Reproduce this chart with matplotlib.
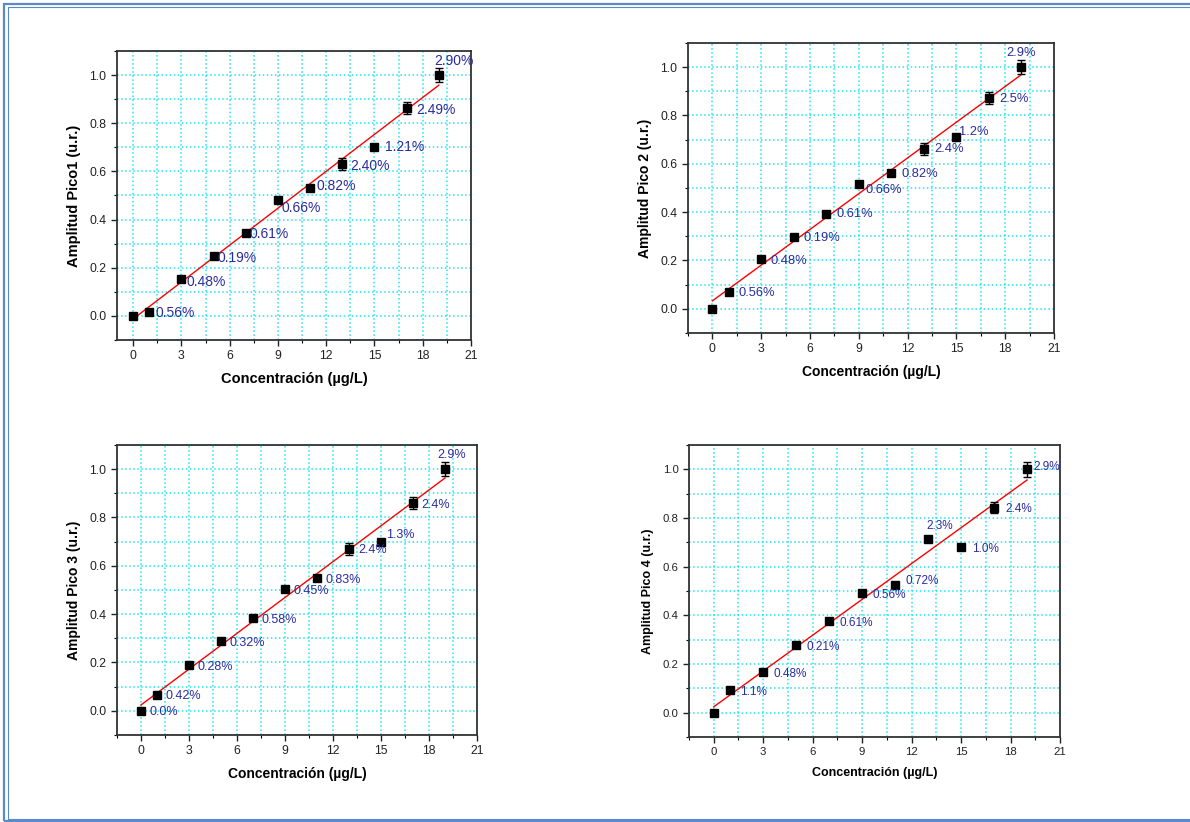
import numpy as np
import matplotlib
matplotlib.use('Agg')
import matplotlib.pyplot as plt
from matplotlib.patches import Rectangle
from matplotlib.ticker import MultipleLocator

plt.rcParams['font.family'] = ['Liberation Sans', 'DejaVu Sans']

# concentration (ug/L), same for all four peaks
conc = [0, 1, 3, 5, 7, 9, 11, 13, 15, 17, 19]

pico1 = [0.0, 0.015, 0.155, 0.25, 0.345, 0.48, 0.53, 0.63, 0.70, 0.865, 1.0]
pico2 = [0.0, 0.07, 0.208, 0.299, 0.393, 0.515, 0.562, 0.661, 0.712, 0.872, 1.0]
pico3 = [0.0, 0.065, 0.19, 0.289, 0.383, 0.503, 0.551, 0.668, 0.70, 0.861, 1.0]
pico4 = [0.0, 0.093, 0.167, 0.279, 0.378, 0.49, 0.526, 0.714, 0.682, 0.842, 1.0]

err1 = [0.0, 0.002, 0.003, 0.002, 0.003, 0.003, 0.004, 0.025, 0.006, 0.025, 0.03]
err2 = [0.0, 0.002, 0.003, 0.002, 0.003, 0.003, 0.004, 0.025, 0.01, 0.025, 0.03]
err3 = [0.0, 0.002, 0.003, 0.002, 0.003, 0.003, 0.004, 0.025, 0.006, 0.025, 0.03]
err4 = [0.0, 0.004, 0.003, 0.002, 0.003, 0.003, 0.004, 0.012, 0.006, 0.022, 0.03]

# relative std labels (None = no label)
rsd1 = [None, '0.56%', '0.48%', '0.19%', '0.61%', '0.66%', '0.82%', '2.40%', '1.21%', '2.49%', '2.90%']
rsd2 = [None, '0.56%', '0.48%', '0.19%', '0.61%', '0.66%', '0.82%', '2.4%', '1.2%', '2.5%', '2.9%']
rsd3 = ['0.0%', '0.42%', '0.28%', '0.32%', '0.58%', '0.45%', '0.83%', '2.4%', '1.3%', '2.4%', '2.9%']
rsd4 = [None, '1.1%', '0.48%', '0.21%', '0.61%', '0.56%', '0.72%', '2.3%', '1.0%', '2.4%', '2.9%']

ylabels = ['Amplitud Pico1 (u.r.)', 'Amplitud Pico 2 (u.r.)',
           'Amplitud Pico 3 (u.r.)', 'Amplitud Pico 4 (u.r.)']
xlabel = 'Concentraci\u00f3n (\u00b5g/L)'

# label offsets in pixels (dx, dy)
off1 = [(0, 0), (6, -1), (5, -3), (4, -2), (4, -1), (4, -8), (6, 2), (8, -2), (11, 0), (10, -2), (-5, 14)]
off2 = [(0, 0), (10, -1), (9, -2), (10, -1), (10, 0), (7, -6), (10, -1), (10, 0), (3, 5), (10, -1), (-15, 14)]
off3 = [(8, -1), (8, -1), (9, -2), (9, -2), (9, -2), (8, -2), (8, -2), (9, -1), (5, 7), (8, -2), (-8, 14)]
off4 = [(0, 0), (10, -2), (10, -2), (10, -2), (10, -2), (10, -2), (10, 4), (-2, 13), (11, -2), (11, -1), (6, 2)]

W, H = 1190, 822
fig = plt.figure(figsize=(W / 100, H / 100), dpi=100)

# axes boxes in pixels: left, top, right, bottom
boxes = [(117, 51, 471, 340), (688, 43, 1054, 333),
         (117, 445, 477, 735), (689, 445, 1060, 737)]
xmins = [-1, -1.5, -1.5, -1.5]
label_fs = [10.5, 10, 10, 9]
tick_fs = [8.8, 8.8, 8.8, 8.2]
txt_fs = [10, 9.3, 9, 8.5]

series = [pico1, pico2, pico3, pico4]
errs = [err1, err2, err3, err4]
rsds = [rsd1, rsd2, rsd3, rsd4]
offs = [off1, off2, off3, off4]

for i in range(4):
    l, t, r, b = boxes[i]
    ax = fig.add_axes([l / W, 1 - b / H, (r - l) / W, (b - t) / H])
    x = np.array(conc)
    y = np.array(series[i])

    ax.errorbar(x, y, yerr=errs[i], fmt='s', color='black', ms=5.8,
                ecolor='black', elinewidth=1, capsize=3, capthick=1, zorder=4)
    k, c0 = np.polyfit(x, y, 1)
    xf = np.array([x.min(), x.max()])
    ax.plot(xf, k * xf + c0, color='red', lw=1, zorder=3)

    for j in range(len(x)):
        if rsds[i][j] is None:
            continue
        ax.annotate(rsds[i][j], (x[j], y[j]), xytext=offs[i][j],
                    textcoords='offset pixels', ha='left', va='center',
                    color='#2b2ba0', fontsize=txt_fs[i], zorder=5)

    ax.set_xlim(xmins[i], 21)
    ax.set_ylim(-0.1, 1.1)
    ax.xaxis.set_major_locator(MultipleLocator(3))
    ax.xaxis.set_minor_locator(MultipleLocator(1.5))
    ax.yaxis.set_major_locator(MultipleLocator(0.2))
    ax.yaxis.set_minor_locator(MultipleLocator(0.1))
    ax.set_yticks(np.arange(0, 1.01, 0.2))
    ax.grid(True, which='both', color='#1ee6f2', linestyle=':', lw=1.1)
    ax.set_axisbelow(True)

    for s in ax.spines.values():
        s.set_color('#333333')
        s.set_linewidth(1.3)
    ax.tick_params(which='major', direction='out', length=4, width=1,
                   labelsize=tick_fs[i], colors='#222222')
    ax.tick_params(which='minor', direction='out', length=2.5, width=0.8)

    ax.set_xlabel(xlabel, fontsize=label_fs[i], fontweight='bold', labelpad=7)
    ax.set_ylabel(ylabels[i], fontsize=label_fs[i], fontweight='bold', labelpad=6)

# blue double frame around the figure
blue = '#5a8ac8'
fig.patches.append(Rectangle((4 / W, 1 - 821 / H), 1.2, (821 - 4) / H,
                             transform=fig.transFigure, fill=False,
                             edgecolor=blue, lw=1.6))
fig.patches.append(Rectangle((7.5 / W, 1 - 818.5 / H), 1.2, (818.5 - 7.5) / H,
                             transform=fig.transFigure, fill=False,
                             edgecolor=blue, lw=0.8))

fig.savefig('out.png', dpi=100)
